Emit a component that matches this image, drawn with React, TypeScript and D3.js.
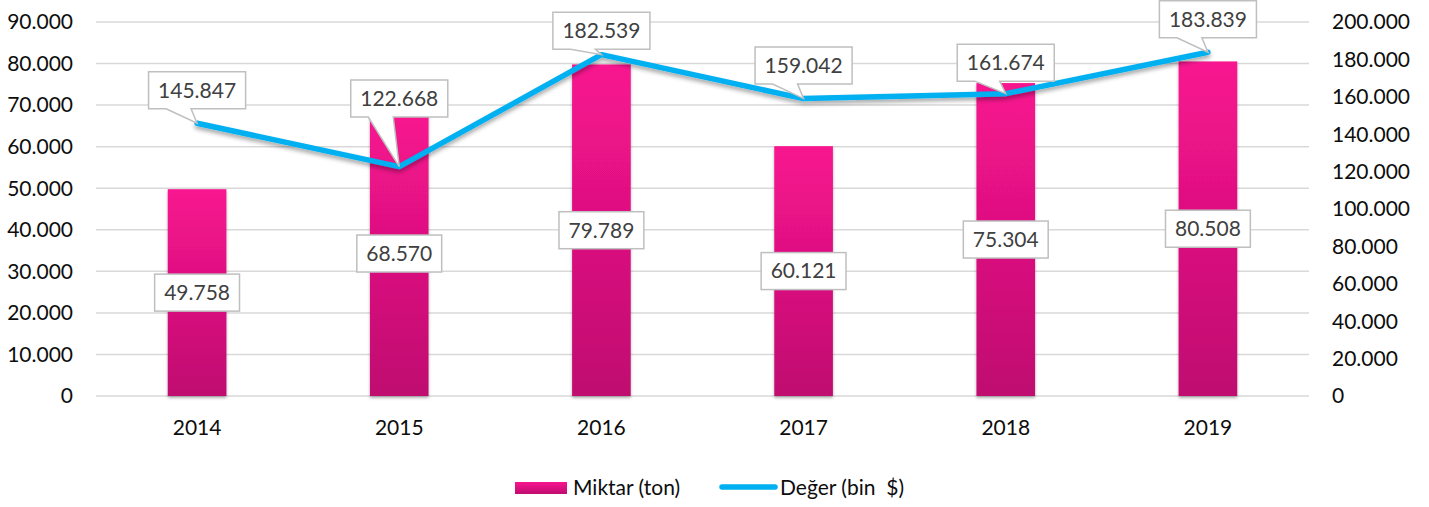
import React, { useEffect, useRef } from "react";
import * as d3 from "d3";

const years = ["2014", "2015", "2016", "2017", "2018", "2019"];
const miktar = [49758, 68570, 79789, 60121, 75304, 80508];
const deger = [145847, 122668, 182539, 159042, 161674, 183839];
const leftTicks = [0, 10000, 20000, 30000, 40000, 50000, 60000, 70000, 80000, 90000];
const rightTicks = [0, 20000, 40000, 60000, 80000, 100000, 120000, 140000, 160000, 180000, 200000];
const seriesNames = ["Miktar (ton)", "Değer (bin  $)"];

// layout: distance of line label box centre above its point
const lineLabelLift = [33, 68, 24, 33, 31, 33];

const W = 1429;
const H = 507;
const FONT = "Lato, 'Open Sans', sans-serif";

export default function App() {
  const ref = useRef<SVGSVGElement | null>(null);

  useEffect(() => {
    const svg = d3.select(ref.current);
    svg.selectAll("*").remove();

    const loc = d3.formatLocale({ decimal: ",", thousands: ".", grouping: [3], currency: ["", ""] });
    const fmt = loc.format(",");

    const left = 96, right = 1309, top = 22, bottom = 396;
    const x = d3.scaleBand<string>().domain(years).range([left, right]).padding(0);
    const yL = d3.scaleLinear().domain([0, 90000]).range([bottom, top]);
    const yR = d3.scaleLinear().domain([0, 200000]).range([bottom, top]);
    const barW = x.bandwidth() * 0.29;

    const defs = svg.append("defs");
    const grad = defs.append("linearGradient").attr("id", "barGrad").attr("x1", 0).attr("y1", 0).attr("x2", 0).attr("y2", 1);
    grad.append("stop").attr("offset", "0%").attr("stop-color", "#F8148F");
    grad.append("stop").attr("offset", "100%").attr("stop-color", "#BF0C70");
    const sh = defs.append("filter").attr("id", "lineShadow").attr("x", "-5%").attr("y", "-50%").attr("width", "110%").attr("height", "200%");
    sh.append("feDropShadow").attr("dx", 0).attr("dy", 3).attr("stdDeviation", 2.2).attr("flood-color", "#000").attr("flood-opacity", 0.35);
    const bsh = defs.append("filter").attr("id", "barShadow").attr("x", "-10%").attr("y", "-10%").attr("width", "120%").attr("height", "120%");
    bsh.append("feDropShadow").attr("dx", 0).attr("dy", 2).attr("stdDeviation", 1.5).attr("flood-color", "#000").attr("flood-opacity", 0.3);

    // gridlines
    svg.append("g").selectAll("line").data(leftTicks).join("line")
      .attr("x1", left).attr("x2", right)
      .attr("y1", (d) => yL(d)).attr("y2", (d) => yL(d))
      .attr("stroke", "#d9d9d9").attr("stroke-width", 1.5);

    // left axis labels
    svg.append("g").selectAll("text").data(leftTicks).join("text")
      .attr("x", 73).attr("y", (d) => yL(d)).attr("dy", "0.35em")
      .attr("text-anchor", "end").attr("font-family", FONT).attr("font-size", 21).attr("fill", "#0d0d0d")
      .text((d) => fmt(d));

    // right axis labels
    svg.append("g").selectAll("text").data(rightTicks).join("text")
      .attr("x", 1332).attr("y", (d) => yR(d)).attr("dy", "0.35em")
      .attr("text-anchor", "start").attr("font-family", FONT).attr("font-size", 21).attr("fill", "#0d0d0d")
      .text((d) => fmt(d));

    // category labels
    svg.append("g").selectAll("text").data(years).join("text")
      .attr("x", (d) => (x(d) as number) + x.bandwidth() / 2).attr("y", 428).attr("dy", "0.35em")
      .attr("text-anchor", "middle").attr("font-family", FONT).attr("font-size", 21).attr("fill", "#0d0d0d")
      .text((d) => d);

    // bars
    svg.append("g").attr("filter", "url(#barShadow)").selectAll("rect").data(miktar).join("rect")
      .attr("x", (d, i) => (x(years[i]) as number) + x.bandwidth() / 2 - barW / 2)
      .attr("width", barW)
      .attr("y", (d) => yL(d))
      .attr("height", (d) => bottom - yL(d))
      .attr("fill", "url(#barGrad)");

    // line
    const pts: [number, number][] = deger.map((v, i) => [(x(years[i]) as number) + x.bandwidth() / 2, yR(v)]);
    svg.append("path").datum(pts)
      .attr("d", d3.line())
      .attr("fill", "none").attr("stroke", "#00B0F0").attr("stroke-width", 5.5)
      .attr("stroke-linejoin", "round").attr("stroke-linecap", "round")
      .attr("filter", "url(#lineShadow)");

    // bar labels
    const boxH = 37;
    miktar.forEach((v, i) => {
      const cx = (x(years[i]) as number) + x.bandwidth() / 2;
      const cy = (yL(v) + bottom) / 2;
      const g = svg.append("g");
      const rect = g.append("rect");
      const t = g.append("text").attr("x", cx).attr("y", cy).attr("dy", "0.35em")
        .attr("text-anchor", "middle").attr("font-family", FONT).attr("font-size", 21).attr("fill", "#404040")
        .text(fmt(v));
      const tw = (t.node() as SVGTextElement).getComputedTextLength();
      const bw = tw + 19;
      rect.attr("x", cx - bw / 2).attr("y", cy - boxH / 2).attr("width", bw).attr("height", boxH)
        .attr("fill", "#fff").attr("stroke", "#bfbfbf").attr("stroke-width", 1.5);
    });

    // line labels with callouts
    deger.forEach((v, i) => {
      const [px, py] = pts[i];
      const cy = py - lineLabelLift[i];
      const g = svg.append("g");
      const path = g.append("path");
      const t = g.append("text").attr("x", px).attr("y", cy).attr("dy", "0.35em")
        .attr("text-anchor", "middle").attr("font-family", FONT).attr("font-size", 21).attr("fill", "#404040")
        .text(fmt(v));
      const tw = (t.node() as SVGTextElement).getComputedTextLength();
      const bw = tw + 19;
      const x0 = px - bw / 2, x1 = px + bw / 2, y0 = cy - boxH / 2, y1 = cy + boxH / 2;
      const d = `M${x0},${y0}H${x1}V${y1}H${px - 6}L${px},${py}L${px - 31},${y1}H${x0}Z`;
      path.attr("d", d).attr("fill", "#fff").attr("stroke", "#bfbfbf").attr("stroke-width", 1.5).attr("stroke-linejoin", "miter");
    });

    // legend
    const lg = svg.append("g");
    lg.append("rect").attr("x", 515).attr("y", 482).attr("width", 52).attr("height", 12).attr("fill", "url(#barGrad)");
    lg.append("text").attr("x", 573).attr("y", 488).attr("dy", "0.35em").attr("font-family", FONT).attr("font-size", 21).attr("fill", "#0d0d0d").text(seriesNames[0]);
    lg.append("line").attr("x1", 722).attr("x2", 775).attr("y1", 487).attr("y2", 487)
      .attr("stroke", "#00B0F0").attr("stroke-width", 5.5).attr("stroke-linecap", "round");
    lg.append("text").attr("x", 780).attr("y", 488).attr("dy", "0.35em").attr("font-family", FONT).attr("font-size", 21).attr("fill", "#0d0d0d")
      .style("white-space", "pre").text(seriesNames[1]);
  }, []);

  return (
    <svg ref={ref} width={W} height={H} style={{ position: "absolute", left: 0, top: 0, background: "#fff" }} />
  );
}
